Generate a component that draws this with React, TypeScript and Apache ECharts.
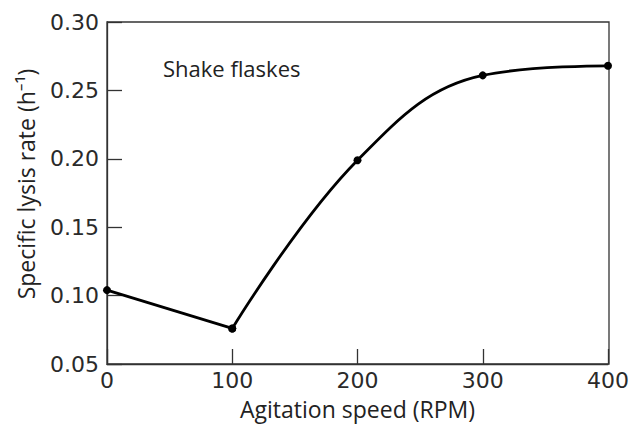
import React, { useEffect, useRef } from "react";
import * as echarts from "echarts";

const speeds = [0, 100, 200, 300, 400];
const lysisRates = [0.104, 0.076, 0.199, 0.261, 0.268];
const xTicks = [0, 100, 200, 300, 400];
const yTicks = [0.05, 0.1, 0.15, 0.2, 0.25, 0.3];
const xTitle = "Agitation speed (RPM)";
const yTitle = "Specific lysis rate (h⁻¹)";
const annotation = "Shake flaskes";

const FONT = "'Open Sans', 'Noto Sans', sans-serif";
const TICK_FONT = "'DejaVu Sans', sans-serif";

export default function App() {
  const ref = useRef<HTMLDivElement>(null);
  useEffect(() => {
    if (!ref.current) return;
    const chart = echarts.init(ref.current, undefined, { renderer: "svg" });
    const pts = speeds.map((s, i) => [s, lysisRates[i]]);
    const straight = pts.slice(0, 2);
    const curved = pts.slice(1);
    chart.setOption({
      animation: false,
      backgroundColor: "#ffffff",
      grid: { left: 107, right: 23, top: 22, bottom: 63, containLabel: false },
      xAxis: {
        type: "value",
        min: xTicks[0],
        max: xTicks[xTicks.length - 1],
        interval: 100,
        name: xTitle,
        nameLocation: "middle",
        nameGap: 33,
        nameTextStyle: { fontFamily: FONT, fontSize: 23, color: "#222" },
        axisLine: { show: true, onZero: false, lineStyle: { color: "#333", width: 1.3 } },
        axisTick: { show: true, inside: true, length: 15, lineStyle: { color: "#333", width: 1.3 } },
        axisLabel: { fontFamily: TICK_FONT, fontSize: 22, color: "#2a2a2a", margin: 5 },
        splitLine: { show: false },
      },
      yAxis: {
        type: "value",
        min: yTicks[0],
        max: yTicks[yTicks.length - 1],
        interval: 0.05,
        name: yTitle,
        nameLocation: "middle",
        nameGap: 70,
        nameTextStyle: { fontFamily: FONT, fontSize: 23, color: "#222", padding: [0, 0, 0, 18] },
        axisLine: { show: true, onZero: false, lineStyle: { color: "#333", width: 1.3 } },
        axisTick: { show: true, inside: true, length: 15, lineStyle: { color: "#333", width: 1.3 } },
        axisLabel: {
          fontFamily: TICK_FONT,
          fontSize: 22,
          color: "#2a2a2a",
          margin: 8,
          formatter: (v: number) => v.toFixed(2),
        },
        splitLine: { show: false },
      },
      graphic: [
        {
          type: "rect",
          shape: { x: 107, y: 22, width: 502, height: 342 },
          style: { fill: "none", stroke: "#333", lineWidth: 1.3 },
          silent: true,
          z: 1,
        },
        {
          type: "text",
          left: 163,
          top: 57,
          style: { text: annotation, fontFamily: FONT, fontSize: 22, fill: "#222" },
        },
      ],
      series: [
        {
          type: "line",
          data: straight,
          smooth: false,
          symbol: "circle",
          symbolSize: 8,
          itemStyle: { color: "#000" },
          lineStyle: { color: "#000", width: 2.8 },
          clip: false,
          z: 5,
        },
        {
          type: "line",
          data: curved,
          smooth: 0.4,
          symbol: "circle",
          symbolSize: 8,
          itemStyle: { color: "#000" },
          lineStyle: { color: "#000", width: 2.8 },
          clip: false,
          z: 5,
        },
      ],
    });
    return () => chart.dispose();
  }, []);
  return (
    <div
      ref={ref}
      style={{ position: "fixed", left: 0, top: 0, width: 632, height: 427 }}
    />
  );
}
